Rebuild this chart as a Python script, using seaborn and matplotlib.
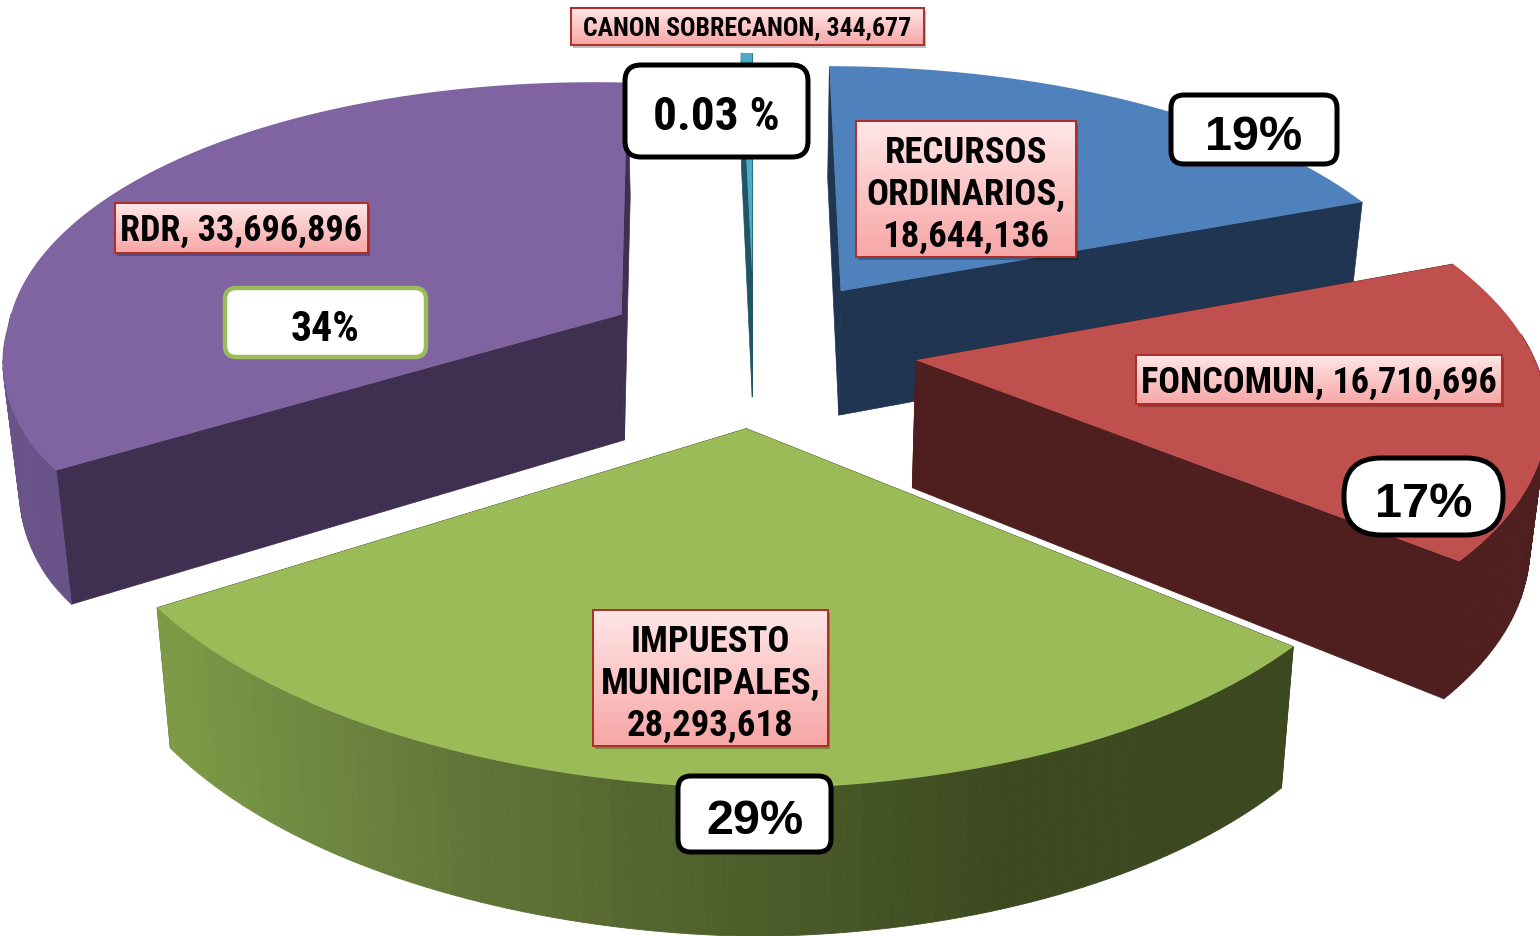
import numpy as np
import matplotlib
matplotlib.use("Agg")
import matplotlib.pyplot as plt
from matplotlib.patches import FancyBboxPatch, Rectangle
from matplotlib.colors import LinearSegmentedColormap
import seaborn as sns

sns.set_theme(style="white")

# data
names = ["RECURSOS\nORDINARIOS,\n18,644,136", "FONCOMUN, 16,710,696",
         "IMPUESTO\nMUNICIPALES,\n28,293,618", "RDR, 33,696,896",
         "CANON SOBRECANON, 344,677"]
values = [18644136, 16710696, 28293618, 33696896, 344677]
percents = ["19%", "17%", "29%", "34%", "0.03 %"]

# style
explode = [0.258, 0.265, 0.28, 0.245, 0.28]
top_cols = ["#4f81bd", "#c0504d", "#9bbb59", "#8064a2", "#4bacc6"]
wall_cols = ["#1f3551", "#4f1f1f", "#3d4a20", "#3f2f50", "#1f5565"]
outer_cols = [["#1f3551", "#1f3551"], ["#4f1f1f", "#4f1f1f"],
              ["#7d9c47", "#64783a", "#4f602c", "#3d4a20", "#3c4820"],
              ["#6a5389", "#5c4777"], ["#1f5565", "#1f5565"]]
draw_order = [3, 0, 4, 1, 2]

CX, CY, A, A_LEFT, B, P, D, PD, K, TILT = 754, 349, 615, 626, 276, 0.155, 127, 0.11, 0.978, 17

fig, ax = plt.subplots(figsize=(15.4, 9.37), dpi=100)
fig.subplots_adjust(0, 0, 1, 1)
ax.set_xlim(0, 1540)
ax.set_ylim(937, 0)
ax.axis("off")


def top(X, Y):
    X = np.asarray(X, dtype=float)
    w = 1 + P * Y
    left = np.minimum(X, 0)
    right = np.maximum(X, 0)
    front = np.clip(-np.asarray(Y, dtype=float) / 0.4, 0, 1)
    a_left = A + (A_LEFT - A) * front
    return CX + (A * right + a_left * left) / w, CY - B * Y / w + TILT * left


def bottom(X, Y):
    sx, sy = top(X, Y)
    return CX + (sx - CX) * K, sy + D / (1 + PD * Y)


fracs = np.array(values, dtype=float) / np.sum(values)
edges = np.concatenate([[0], np.cumsum(fracs)]) * 2 * np.pi

for i in draw_order:
    t0, t1 = edges[i], edges[i + 1]
    mid = (t0 + t1) / 2
    ox, oy = explode[i] * np.sin(mid), explode[i] * np.cos(mid)
    th = np.linspace(t0, t1, 90)
    X = ox + np.sin(th)
    Y = oy + np.cos(th)
    tx, ty = top(X, Y)
    bx, by = bottom(X, Y)
    ax_, ay_ = top(ox, oy)
    abx, aby = bottom(ox, oy)
    # radial walls
    for j in (0, -1):
        ax.fill([ax_, tx[j], bx[j], abx], [ay_, ty[j], by[j], aby],
                color=wall_cols[i], lw=0.5)
    # outer wall, shaded across its width
    cmap = LinearSegmentedColormap.from_list("w", sns.blend_palette(outer_cols[i], 32))
    lo, hi = tx.min(), tx.max()
    for j in range(len(th) - 1):
        if Y[j] > 0.05 and Y[j + 1] > 0.05:
            continue
        c = cmap((tx[j] - lo) / max(hi - lo, 1))
        ax.fill([tx[j], tx[j + 1], bx[j + 1], bx[j]],
                [ty[j], ty[j + 1], by[j + 1], by[j]], color=c, lw=0.6)
    # top face
    ax.fill(np.r_[ax_, tx], np.r_[ay_, ty], color=top_cols[i], lw=0)

NARROW = ["Roboto Condensed", "Liberation Sans"]
WIDE = ["Liberation Sans"]
grad = LinearSegmentedColormap.from_list("pink", ["#ffe6e6", "#f7a6a6"])


def label_box(x0, y0, x1, y1, txt, size, z=10, ls=1.2):
    ax.add_patch(Rectangle((x0 + 2, y0 + 3), x1 - x0, y1 - y0, fc="#000000", alpha=0.25, lw=0, zorder=z))
    ax.imshow(np.linspace(0, 1, 64)[:, None], cmap=grad, extent=(x0, x1, y1, y0),
              aspect="auto", zorder=z + 1)
    ax.add_patch(Rectangle((x0, y0), x1 - x0, y1 - y0, fc="none", ec="#ae2c26", lw=1.4, zorder=z + 2))
    ax.text((x0 + x1) / 2, (y0 + y1) / 2 - 2, txt, ha="center", va="center_baseline", fontsize=size,
            fontweight="bold", family=NARROW, color="black", zorder=z + 3, linespacing=ls)


def pct_box(x0, y0, x1, y1, txt, size, rad, ec="black", lw=3.6, fam=WIDE, z=20, dy=2):
    ax.add_patch(FancyBboxPatch((x0 + rad, y0 + rad), x1 - x0 - 2 * rad, y1 - y0 - 2 * rad,
                                boxstyle=f"round,pad={rad},rounding_size={rad}",
                                fc="white", ec=ec, lw=lw, zorder=z))
    ax.text((x0 + x1) / 2, (y0 + y1) / 2 + dy, txt, ha="center", va="center_baseline", fontsize=size,
            fontweight="bold", family=fam, color="black", zorder=z + 1)


lab_pos = [(856, 122, 1076, 258, 26.5), (1136, 356, 1502, 405, 26), (593, 611, 828, 747, 26.5),
           (115, 204, 368, 254, 26), (571, 9, 924, 46, 18.5)]
for n, (x0, y0, x1, y1, s) in zip(names, lab_pos):
    label_box(x0, y0, x1, y1, n, s)

pct_box(1171, 96, 1337, 165, percents[0], 35, 13)
pct_box(1344, 459, 1503, 536, percents[1], 35, 37)
pct_box(678, 777, 831, 853, percents[2], 35, 13)
pct_box(225, 289, 426, 358, percents[3], 30, 11, ec="#9bbb59", lw=3.2, fam=NARROW)
pct_box(625, 66, 808, 158, percents[4], 34, 16, fam=NARROW, dy=0)

ax.set_xlim(0, 1540)
ax.set_ylim(937, 0)
fig.savefig("out.png", dpi=100, facecolor="white")
